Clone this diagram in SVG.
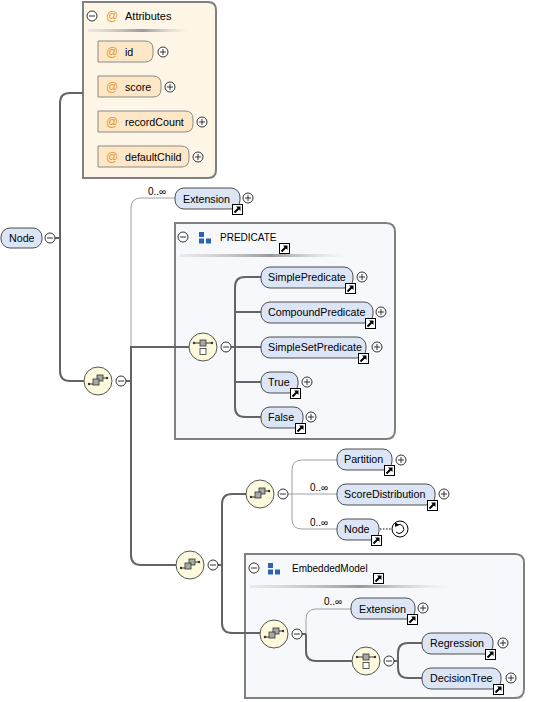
<svg xmlns="http://www.w3.org/2000/svg" width="542" height="702" viewBox="0 0 542 702">
<style>
text{font-family:"Liberation Sans",Arial,sans-serif;fill:#000}
.t{font-size:10.7px}
.h{font-size:10px}
.at{fill:#e39a2d;font-size:12px}
.el{fill:#dbe5f6;stroke:#4d4d4d;stroke-width:1}
.att{fill:#fde7c6;stroke:#8a8a8a;stroke-width:1}
.box{stroke:#808080;stroke-width:2}
.cmp{fill:#fcf9dc;stroke:#555;stroke-width:1}
.pm{fill:#fff;stroke:#333;stroke-width:1}
.pml{stroke:#333;stroke-width:1;fill:none}
.thick{fill:none;stroke:#646464;stroke-width:2}
.thin{fill:none;stroke:#a0a0a0;stroke-width:1}
.card{font-size:10px}
</style>
<defs>
<linearGradient id="hg" x1="0" y1="0" x2="1" y2="0">
<stop offset="0" stop-color="#c8c8c8" stop-opacity="0.3"/>
<stop offset="0.55" stop-color="#9a9a9a"/>
<stop offset="1" stop-color="#c8c8c8" stop-opacity="0"/>
</linearGradient>
<g id="lnk">
<rect x="0.5" y="0.5" width="10" height="10" fill="#fff" stroke="#000" stroke-width="1"/>
<path d="M2.5 8.5 L7 4" stroke="#000" stroke-width="2"/>
<path d="M4 2.5 L8.5 2.5 L8.5 7 Z" fill="#000"/>
</g>
<g id="plus">
<circle r="5" class="pm"/>
<path d="M-3 0H3M0 -3V3" class="pml"/>
</g>
<g id="minus">
<circle r="5" class="pm"/>
<path d="M-3 0H3" class="pml"/>
</g>
<g id="seq">
<circle r="14" class="cmp"/>
<path d="M-9 3H-4M5 -3H9" stroke="#333" stroke-width="1"/>
<circle cx="-9" cy="3" r="1.2" fill="#333"/>
<circle cx="9" cy="-3" r="1.2" fill="#333"/>
<rect x="-1" y="-6" width="6" height="6" fill="#a8a8a8" stroke="#333" stroke-width="0.8"/>
<rect x="-5" y="-2" width="6" height="6" fill="#a8a8a8" stroke="#333" stroke-width="0.8"/>
</g>
<g id="cho">
<circle r="14" class="cmp"/>
<path d="M-9 -4H9" stroke="#333" stroke-width="1"/>
<circle cx="-9" cy="-4" r="1.2" fill="#333"/>
<circle cx="9" cy="-4" r="1.2" fill="#333"/>
<rect x="-3" y="-7" width="6" height="6" fill="#a8a8a8" stroke="#333" stroke-width="0.8"/>
<rect x="-3" y="1.5" width="6" height="6" fill="#fff" stroke="#333" stroke-width="0.8"/>
</g>
<g id="grp">
<rect x="0" y="0" width="5" height="5" fill="#2a64b0"/>
<rect x="0" y="6.5" width="5" height="5" fill="#2a64b0"/>
<rect x="7" y="6.5" width="5" height="5" fill="#2a64b0"/>
</g>
</defs>

<!-- containers -->
<g id="attributes">
<path d="M83 2H208Q216 2 216 10V170Q216 178 208 178H83Z" fill="#fdf6e7" class="box"/>
<use href="#minus" x="92" y="16"/>
<text x="106" y="20" class="at">@</text>
<text x="125" y="20" style="font-size:11px">Attributes</text>
<rect x="88" y="29" width="100" height="3" fill="url(#hg)"/>
</g>
<g id="predicate">
<path d="M175 223H386Q395 223 395 232V430Q395 439 386 439H175Z" fill="#f6f8fc" class="box"/>
<use href="#minus" x="183" y="237"/>
<use href="#grp" x="199" y="232"/>
<text x="220" y="241" class="h">PREDICATE</text>
<use href="#lnk" x="279" y="243"/>
<rect x="180" y="254" width="165" height="3" fill="url(#hg)"/>
</g>
<g id="embeddedmodel">
<path d="M245 554H515Q524 554 524 563V689Q524 698 515 698H245Z" fill="#f6f8fc" class="box"/>
<use href="#minus" x="254" y="568"/>
<use href="#grp" x="268" y="563"/>
<text x="292" y="572" class="h">EmbeddedModel</text>
<use href="#lnk" x="373" y="573"/>
<rect x="250" y="585" width="200" height="3" fill="url(#hg)"/>
</g>

<!-- connectors -->
<g id="connectors">
<path class="thick" d="M55 238H60M60 238V103Q60 93 70 93H83M60 238V371Q60 381 70 381H84"/>
<path class="thick" d="M126 381H131"/>
<path class="thin" d="M131 347V208Q131 198 141 198H175"/>
<path class="thick" d="M131 381V347H189M131 381V555Q131 565 141 565H176"/>
<path class="thick" d="M231 347H235M235 347V287Q235 277 245 277H261M235 312H261M235 347H261M235 382H261M235 347V407Q235 417 245 417H261"/>
<path class="thick" d="M218 565H222M222 565V504Q222 494 232 494H246M222 565V623Q222 633 232 633H260"/>
<path class="thin" d="M288 494H292M292 494V470Q292 460 302 460H337M292 494H337M292 494V519Q292 529 302 529H337"/>
<path d="M380 529H392" stroke="#000" stroke-width="1" stroke-dasharray="1.5,1.5"/>
<path class="thin" d="M306 634V619Q306 609 316 609H351"/>
<path class="thick" d="M302 634H306M306 634V651Q306 661 316 661H352"/>
<path class="thick" d="M394 661H398M398 661V653Q398 643 408 643H422M398 661V668Q398 678 408 678H422"/>
</g>

<!-- Node root -->
<g id="node-root">
<rect x="1" y="228" width="41" height="20" rx="9" class="el"/>
<text x="9" y="242" class="t">Node</text>
<use href="#minus" x="50" y="238"/>
</g>

<g id="attr-id">
<path d="M98 41H145Q153 41 153 49V54Q153 62 145 62H98Z" class="att"/>
<text x="106" y="56" class="at">@</text><text x="125" y="56" class="t">id</text>
<use href="#plus" x="163" y="52"/>
</g>
<g id="attr-score">
<path d="M98 76H153Q161 76 161 84V89Q161 97 153 97H98Z" class="att"/>
<text x="106" y="91" class="at">@</text><text x="125" y="91" class="t">score</text>
<use href="#plus" x="170" y="87"/>
</g>
<g id="attr-recordCount">
<path d="M98 111H185Q193 111 193 119V124Q193 132 185 132H98Z" class="att"/>
<text x="106" y="126" class="at">@</text><text x="125" y="126" class="t">recordCount</text>
<use href="#plus" x="202" y="122"/>
</g>
<g id="attr-defaultChild">
<path d="M98 146H181Q189 146 189 154V159Q189 167 181 167H98Z" class="att"/>
<text x="106" y="161" class="at">@</text><text x="125" y="161" class="t">defaultChild</text>
<use href="#plus" x="198" y="157"/>
</g>

<g id="seq1"><use href="#seq" x="98" y="381"/><use href="#minus" x="121" y="381"/></g>

<g id="extension1">
<text x="148" y="195" class="card">0..∞</text>
<rect x="175" y="188" width="65" height="21" rx="9" class="el"/>
<text x="183" y="203" class="t">Extension</text>
<use href="#lnk" x="232" y="204"/>
<use href="#plus" x="248" y="198"/>
</g>

<g id="choice1"><use href="#cho" x="203" y="347"/><use href="#minus" x="226" y="347"/></g>
<g id="SimplePredicate">
<rect x="261" y="267" width="92" height="21" rx="9" class="el"/>
<text x="268" y="281" class="t">SimplePredicate</text>
<use href="#lnk" x="345" y="283"/><use href="#plus" x="362" y="277"/>
</g>
<g id="CompoundPredicate">
<rect x="261" y="302" width="112" height="21" rx="9" class="el"/>
<text x="268" y="316" class="t">CompoundPredicate</text>
<use href="#lnk" x="365" y="318"/><use href="#plus" x="381" y="312"/>
</g>
<g id="SimpleSetPredicate">
<rect x="261" y="337" width="105" height="21" rx="9" class="el"/>
<text x="268" y="351" class="t">SimpleSetPredicate</text>
<use href="#lnk" x="358" y="353"/><use href="#plus" x="377" y="347"/>
</g>
<g id="True">
<rect x="261" y="372" width="37" height="21" rx="9" class="el"/>
<text x="268" y="386" class="t">True</text>
<use href="#lnk" x="290" y="388"/><use href="#plus" x="307" y="382"/>
</g>
<g id="False">
<rect x="261" y="407" width="42" height="21" rx="9" class="el"/>
<text x="268" y="421" class="t">False</text>
<use href="#lnk" x="295" y="423"/><use href="#plus" x="311" y="417"/>
</g>

<g id="seq2"><use href="#seq" x="190" y="565"/><use href="#minus" x="213" y="565"/></g>
<g id="seq3"><use href="#seq" x="260" y="494"/><use href="#minus" x="283" y="494"/></g>

<g id="Partition">
<rect x="337" y="449" width="55" height="21" rx="9" class="el"/>
<text x="344" y="463" class="t">Partition</text>
<use href="#lnk" x="384" y="465"/><use href="#plus" x="401" y="460"/>
</g>
<g id="ScoreDistribution">
<text x="310" y="491" class="card">0..∞</text>
<rect x="337" y="484" width="98" height="21" rx="9" class="el"/>
<text x="344" y="498" class="t">ScoreDistribution</text>
<use href="#lnk" x="427" y="500"/><use href="#plus" x="444" y="494"/>
</g>
<g id="Node-recursive">
<text x="310" y="526" class="card">0..∞</text>
<rect x="337" y="519" width="42" height="21" rx="9" class="el"/>
<text x="344" y="533" class="t">Node</text>
<use href="#lnk" x="371" y="535"/>
<circle cx="400" cy="529" r="8" fill="#fff" stroke="#000" stroke-width="1"/>
<path d="M397 525A4.5 4.5 0 1 1 396 532" fill="none" stroke="#000" stroke-width="1"/>
<path d="M395 522L399 525L395 527Z" fill="#000"/>
</g>

<g id="seq4"><use href="#seq" x="274" y="634"/><use href="#minus" x="297" y="634"/></g>
<g id="extension2">
<text x="324" y="605" class="card">0..∞</text>
<rect x="351" y="598" width="64" height="21" rx="9" class="el"/>
<text x="359" y="613" class="t">Extension</text>
<use href="#lnk" x="407" y="614"/><use href="#plus" x="423" y="608"/>
</g>
<g id="choice2"><use href="#cho" x="366" y="661"/><use href="#minus" x="389" y="661"/></g>
<g id="Regression">
<rect x="422" y="633" width="71" height="21" rx="9" class="el"/>
<text x="430" y="647" class="t">Regression</text>
<use href="#lnk" x="485" y="649"/><use href="#plus" x="503" y="643"/>
</g>
<g id="DecisionTree">
<rect x="422" y="668" width="79" height="21" rx="9" class="el"/>
<text x="430" y="682" class="t">DecisionTree</text>
<use href="#lnk" x="493" y="684"/><use href="#plus" x="511" y="678"/>
</g>
</svg>
